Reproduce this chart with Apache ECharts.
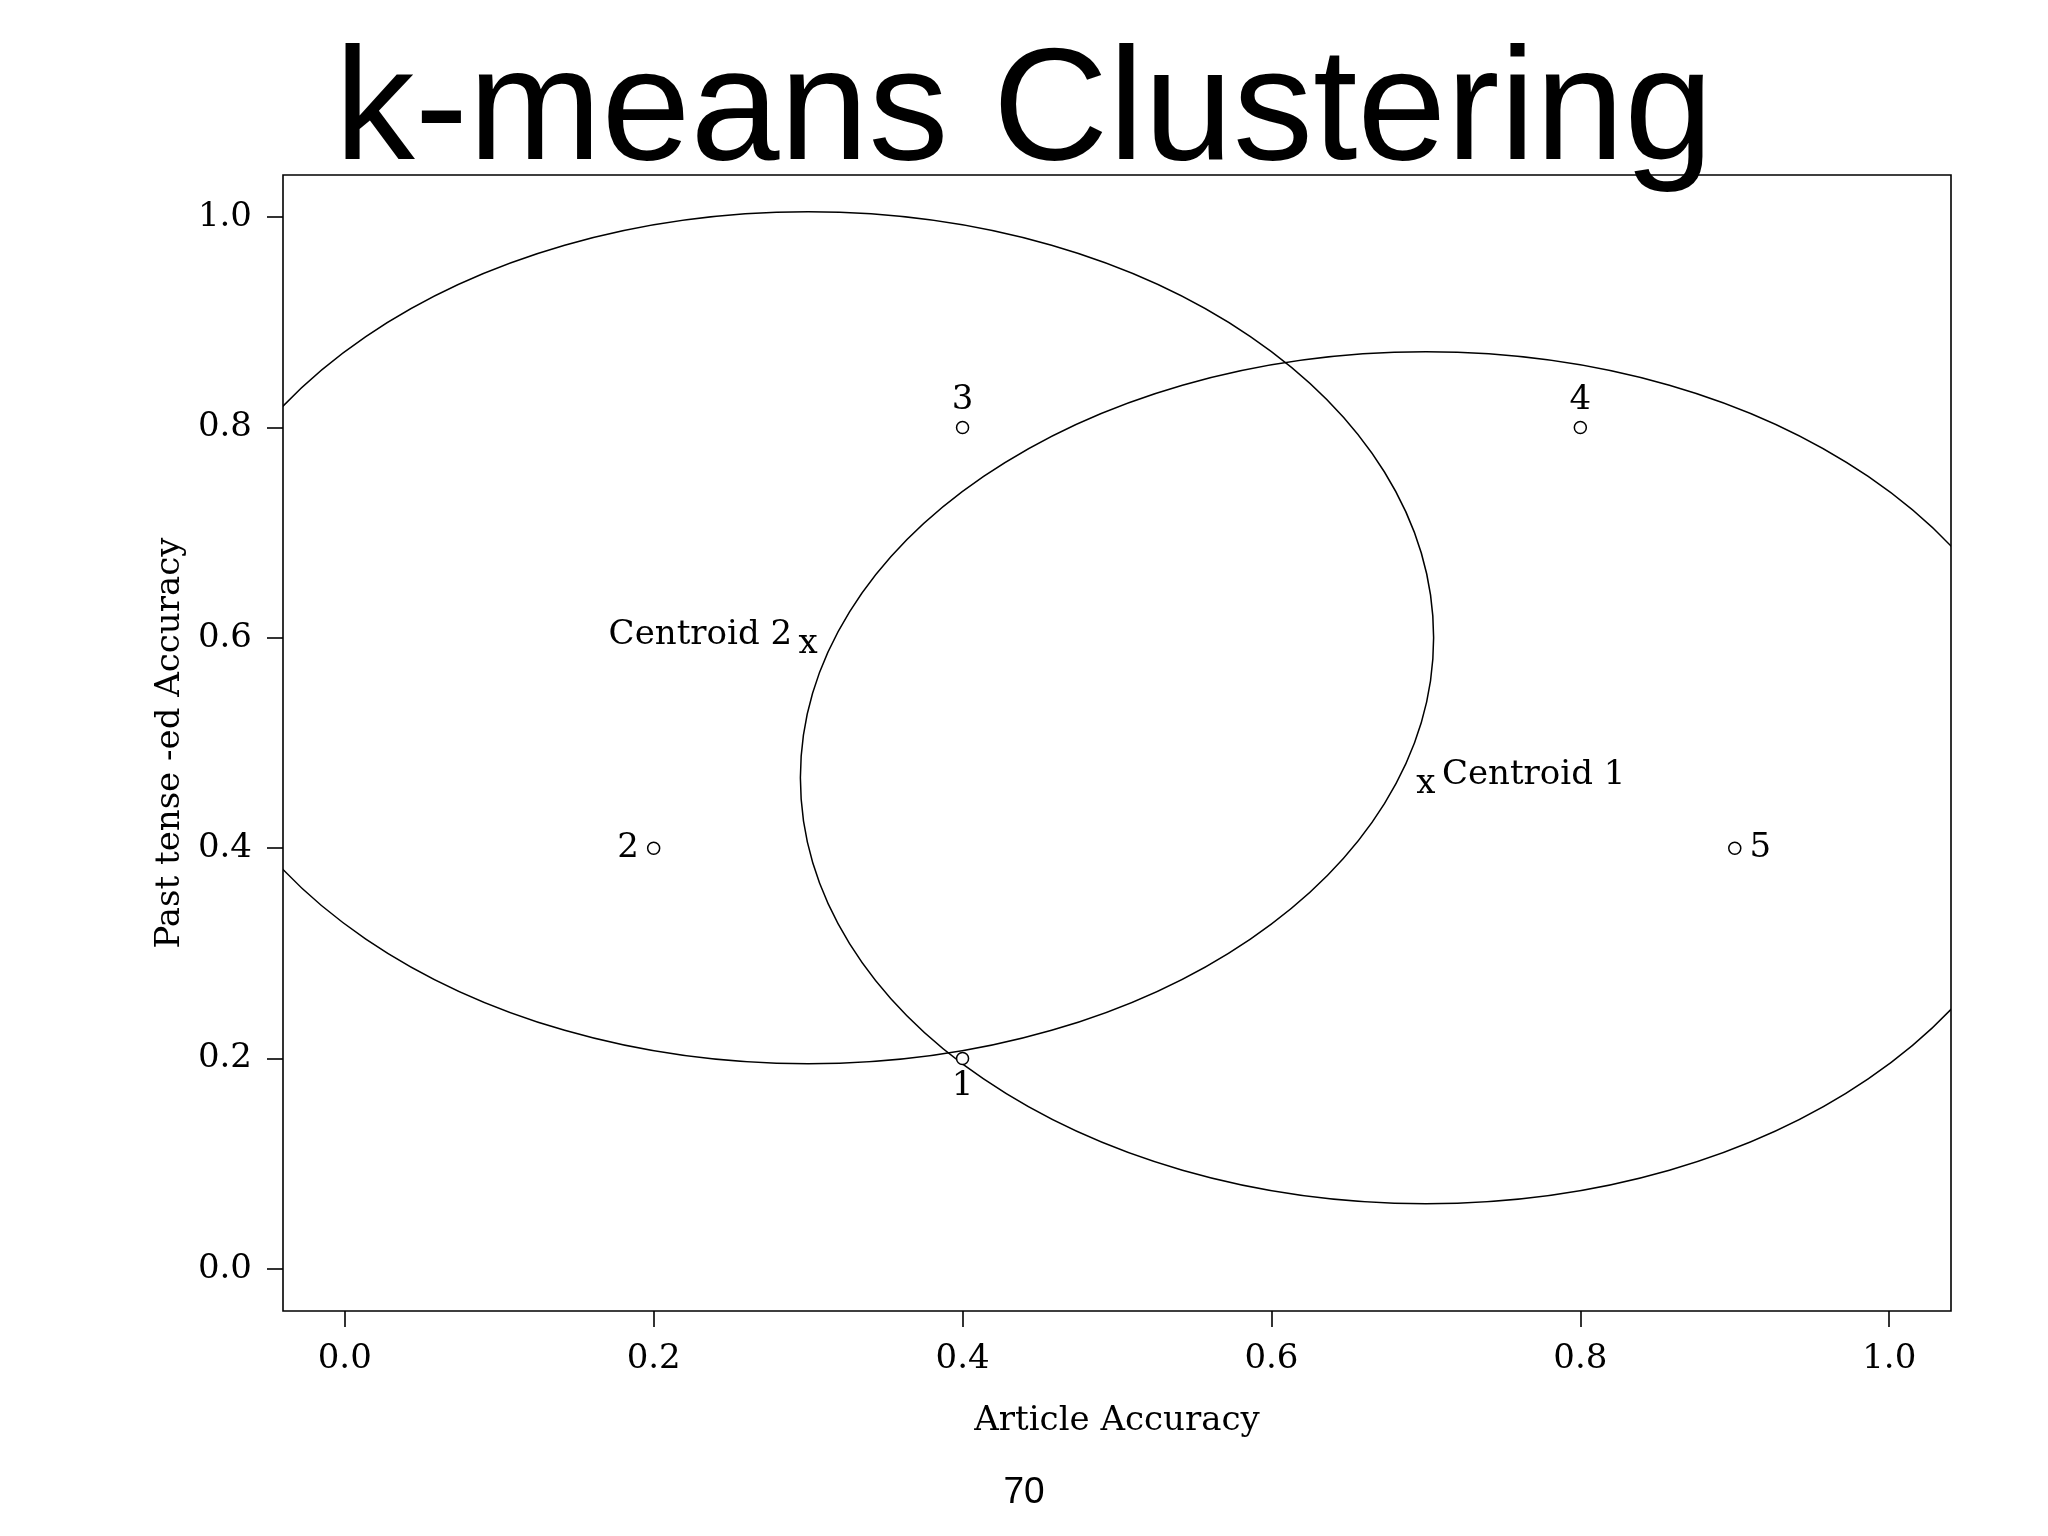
<!DOCTYPE html>
<html>
<head>
<meta charset="utf-8">
<script src="https://cdn.jsdelivr.net/npm/echarts@6/dist/echarts.min.js"></script>
<style>
html,body{margin:0;padding:0;background:#fff;}
#chart{width:2048px;height:1536px;}
</style>
</head>
<body>
<div id="chart"></div>
<script>
// ---- data ----
const pointX = [0.4, 0.2, 0.4, 0.8, 0.9];
const pointY = [0.2, 0.4, 0.8, 0.8, 0.4];
const pointNames = ['1', '2', '3', '4', '5'];

const centroidX = [0.7, 0.3];
const centroidY = [0.467, 0.6];
const centroidNames = ['Centroid 1', 'Centroid 2'];
const clusterRadius = [0.405, 0.405];

const xTicks = [0, 0.2, 0.4, 0.6, 0.8, 1.0];
const yTicks = [0, 0.2, 0.4, 0.6, 0.8, 1.0];

const titleText = 'k-means Clustering';
const xName = 'Article Accuracy';
const yName = 'Past tense -ed Accuracy';
const pageNumber = '70';

// ---- presentation ----
const serif = "'DejaVu Serif', 'Liberation Serif', serif";
const sans = "'Liberation Sans', Arial, Helvetica, sans-serif";
const FS = 34;
const labelSide = { '1': 'bottom', '2': 'left', '3': 'top', '4': 'top', '5': 'right' };
const centroidSide = { 'Centroid 1': 'right', 'Centroid 2': 'left' };

const chart = echarts.init(document.getElementById('chart'), null, { renderer: 'canvas' });

const pointData = pointX.map((x, i) => ({
  value: [x, pointY[i]],
  name: pointNames[i],
  label: {
    show: true,
    formatter: pointNames[i],
    position: labelSide[pointNames[i]],
    distance: labelSide[pointNames[i]] === 'left' || labelSide[pointNames[i]] === 'right' ? 8 : 4
  }
}));

const centroidMarks = centroidX.map((x, i) => ({
  value: [x, centroidY[i]],
  name: centroidNames[i]
}));

const centroidLabels = centroidX.map((x, i) => ({
  value: [x, centroidY[i]],
  name: centroidNames[i],
  label: {
    show: true,
    formatter: centroidNames[i],
    position: centroidSide[centroidNames[i]],
    distance: 16,
    offset: [0, -3]
  }
}));

const circleData = centroidX.map((x, i) => [x, centroidY[i], clusterRadius[i]]);

const option = {
  backgroundColor: '#ffffff',
  animation: false,
  title: [
    {
      text: titleText,
      left: 'center',
      top: 30,
      textStyle: { fontFamily: sans, fontSize: 160, fontWeight: 'normal', color: '#000' }
    },
    {
      text: pageNumber,
      left: 'center',
      top: 1469,
      textStyle: { fontFamily: sans, fontSize: 37, fontWeight: 'normal', color: '#000' }
    }
  ],
  grid: {
    left: 283, top: 175, right: 97, bottom: 225,
    show: true, borderColor: '#000', borderWidth: 1.6, backgroundColor: 'transparent'
  },
  xAxis: {
    type: 'value',
    min: -0.04, max: 1.04,
    name: xName,
    nameLocation: 'middle',
    nameGap: 93,
    nameTextStyle: { fontFamily: serif, fontSize: FS, color: '#000' },
    axisLine: { show: false, onZero: false },
    splitLine: { show: false },
    axisTick: { show: true, inside: false, length: 16, customValues: xTicks, lineStyle: { color: '#000', width: 1.6 } },
    axisLabel: { customValues: xTicks, margin: 31, fontFamily: serif, fontSize: FS, color: '#000', formatter: v => v.toFixed(1) }
  },
  yAxis: {
    type: 'value',
    min: -0.04, max: 1.04,
    name: yName,
    nameLocation: 'middle',
    nameGap: 93,
    nameRotate: 90,
    nameTextStyle: { fontFamily: serif, fontSize: FS, color: '#000' },
    axisLine: { show: false, onZero: false },
    splitLine: { show: false },
    axisTick: { show: true, inside: false, length: 16, customValues: yTicks, lineStyle: { color: '#000', width: 1.6 } },
    axisLabel: { customValues: yTicks, margin: 31, fontFamily: serif, fontSize: FS, color: '#000', formatter: v => v.toFixed(1) }
  },
  series: [
    {
      type: 'custom',
      name: 'clusters',
      clip: true,
      data: circleData,
      renderItem: function (params, api) {
        const c = api.coord([api.value(0), api.value(1)]);
        const s = api.size([api.value(2), api.value(2)]);
        const cs = params.coordSys;
        return {
          type: 'ellipse',
          shape: { cx: c[0], cy: c[1], rx: s[0], ry: s[1] },
          style: { fill: 'none', stroke: '#000', lineWidth: 1.5 },
          clipPath: { type: 'rect', shape: { x: cs.x, y: cs.y, width: cs.width, height: cs.height } }
        };
      },
      silent: true,
      z: 1
    },
    {
      type: 'scatter',
      name: 'points',
      data: pointData,
      symbol: 'circle',
      symbolSize: 12,
      itemStyle: { color: '#fff', borderColor: '#000', borderWidth: 1.5, opacity: 1 },
      label: { fontFamily: serif, fontSize: FS, color: '#000' },
      z: 3
    },
    {
      type: 'scatter',
      name: 'centroid marks',
      data: centroidMarks,
      symbolSize: 0,
      itemStyle: { opacity: 1 },
      label: { show: true, formatter: 'x', position: 'inside', offset: [0, 6], fontFamily: serif, fontSize: FS, color: '#000' },
      z: 3
    },
    {
      type: 'scatter',
      name: 'centroid labels',
      data: centroidLabels,
      symbolSize: 0,
      itemStyle: { opacity: 1 },
      label: { fontFamily: serif, fontSize: FS, color: '#000' },
      z: 3
    }
  ]
};

chart.setOption(option);
</script>
</body>
</html>
